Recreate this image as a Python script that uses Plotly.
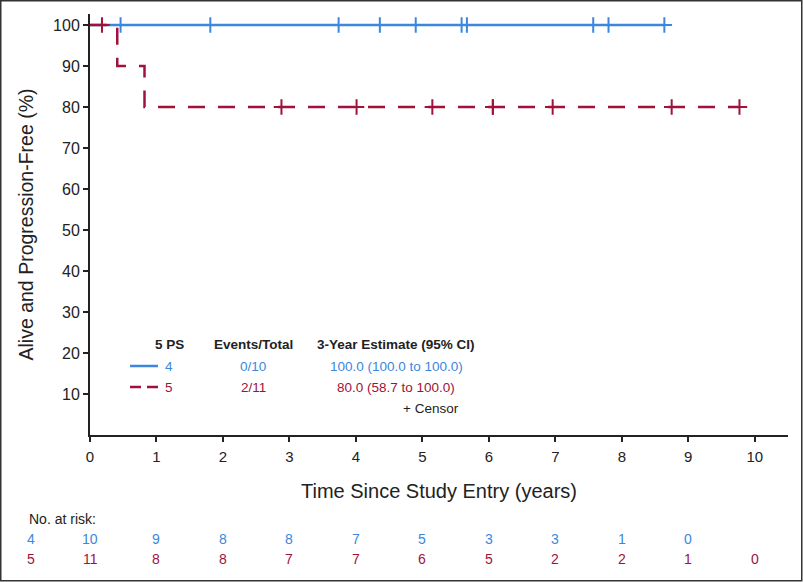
import plotly.graph_objects as go

# ---------------- data ----------------
blue_name = "4"
red_name = "5"
blue_step_t = [0, 8.64]
blue_step_s = [100, 100]
blue_censor_t = [0.46, 1.81, 3.74, 4.36, 4.90, 5.59, 5.67, 7.57, 7.80, 8.64]
red_step_t = [0, 0.41, 0.82, 9.77]
red_step_s = [100, 90, 80, 80]
red_censor_t = [0.18, 2.88, 4.01, 5.15, 6.06, 6.06, 6.96, 8.75, 9.77]
risk_times = [0, 1, 2, 3, 4, 5, 6, 7, 8, 9, 10]
blue_risk = [10, 9, 8, 8, 7, 5, 3, 3, 1, 0, None]
red_risk = [11, 8, 8, 7, 7, 6, 5, 2, 2, 1, 0]
table_header = ["5 PS", "Events/Total", "3-Year Estimate (95% CI)"]
blue_row = ["4", "0/10", "100.0 (100.0 to 100.0)"]
red_row = ["5", "2/11", "80.0 (58.7 to 100.0)"]

BLUE = "#3b87dd"
RED = "#a0123c"
DARK = "#222222"
REG = "Liberation Sans, Arial, Helvetica, sans-serif"

W, H = 803, 582
ML, MR, MT, MB = 90, 15, 14, 147
PW, PH = W - ML - MR, H - MT - MB


def px_x(px):
    return (px - ML) / PW


def px_y(py):
    return (H - MB - py) / PH


def surv_at(ts, ss, t):
    v = ss[0]
    for ti, si in zip(ts, ss):
        if t >= ti:
            v = si
    return v


fig = go.Figure()
fig.add_trace(go.Scatter(x=blue_step_t, y=blue_step_s, mode="lines", line_shape="hv",
                         line=dict(color=BLUE, width=2.5), showlegend=False, hoverinfo="skip"))
fig.add_trace(go.Scatter(x=red_step_t, y=red_step_s, mode="lines", line_shape="hv",
                         line=dict(color=RED, width=2.5, dash="17px,13px"), showlegend=False,
                         hoverinfo="skip"))
fig.add_trace(go.Scatter(x=blue_censor_t, y=[surv_at(blue_step_t, blue_step_s, t) for t in blue_censor_t],
                         mode="markers", marker=dict(symbol="cross-thin", size=11,
                                                     line=dict(color=BLUE, width=2)),
                         showlegend=False, cliponaxis=False, hoverinfo="skip"))
fig.add_trace(go.Scatter(x=red_censor_t, y=[surv_at(red_step_t, red_step_s, t) for t in red_censor_t],
                         mode="markers", marker=dict(symbol="cross-thin", size=11,
                                                     line=dict(color=RED, width=2)),
                         showlegend=False, cliponaxis=False, hoverinfo="skip"))

ann = []
# in-plot table
col_px = [169, 253, 396]
hdr_y = px_y(344)
row_y = [px_y(366), px_y(387)]
for i, txt in enumerate(table_header):
    ann.append(dict(x=px_x(col_px[i]), y=hdr_y, xref="paper", yref="paper", text=f"<b>{txt}</b>",
                    showarrow=False, xanchor="center", yanchor="middle",
                    font=dict(family=REG, size=13.5, color=DARK)))
for row, col, yy in [(blue_row, BLUE, row_y[0]), (red_row, RED, row_y[1])]:
    for i, txt in enumerate(row):
        ann.append(dict(x=px_x(col_px[i]), y=yy, xref="paper", yref="paper", text=txt, showarrow=False,
                        xanchor="center", yanchor="middle", font=dict(family=REG, size=13.5, color=col)))
ann.append(dict(x=px_x(461), y=px_y(408), xref="paper", yref="paper", text="+ Censor", showarrow=False,
                xanchor="right", yanchor="middle", font=dict(family=REG, size=13.5, color=DARK)))

# risk table
ann.append(dict(x=px_x(27), y=px_y(519), xref="paper", yref="paper", text="No. at risk:",
                showarrow=False, xanchor="left", yanchor="middle", font=dict(family=REG, size=14, color=DARK)))
for lbl, vals, col, py in [(blue_name, blue_risk, BLUE, 539), (red_name, red_risk, RED, 559)]:
    ann.append(dict(x=px_x(31), y=px_y(py), xref="paper", yref="paper", text=lbl, showarrow=False,
                    xanchor="center", yanchor="middle", font=dict(family=REG, size=14, color=col)))
    for t, v in zip(risk_times, vals):
        if v is None:
            continue
        ann.append(dict(x=t, y=px_y(py), xref="x", yref="paper", text=str(v), showarrow=False,
                        xanchor="center", yanchor="middle", font=dict(family=REG, size=14, color=col)))

shapes = [
    dict(type="line", xref="paper", yref="paper", x0=px_x(130), x1=px_x(158), y0=row_y[0], y1=row_y[0],
         line=dict(color=BLUE, width=2.5)),
    dict(type="line", xref="paper", yref="paper", x0=px_x(130), x1=px_x(158), y0=row_y[1], y1=row_y[1],
         line=dict(color=RED, width=2.5, dash="11px,6px")),
    dict(type="rect", xref="paper", yref="paper", x0=px_x(0.75), x1=px_x(801.75), y0=px_y(580.75),
         y1=px_y(0.75), line=dict(color="#333333", width=1.5), layer="above"),
]

fig.update_layout(
    width=W, height=H, margin=dict(l=ML, r=MR, t=MT, b=MB, autoexpand=False),
    paper_bgcolor="white", plot_bgcolor="white",
    showlegend=False, annotations=ann, shapes=shapes,
    xaxis=dict(range=[0, 10.5], tickvals=risk_times, ticks="outside", ticklen=5, tickwidth=1.5,
               tickcolor=DARK, showline=True, linecolor=DARK, linewidth=2, showgrid=False, zeroline=False,
               automargin=False, ticklabelstandoff=2,
               tickfont=dict(family=REG, size=15, color=DARK),
               title=dict(text="Time Since Study Entry (years)", standoff=20,
                          font=dict(family=REG, size=20, color=DARK))),
    yaxis=dict(range=[0, 102.7], tickvals=[10, 20, 30, 40, 50, 60, 70, 80, 90, 100], ticks="outside",
               ticklen=5, tickwidth=1.5, tickcolor=DARK, showline=True, linecolor=DARK, linewidth=2,
               showgrid=False, zeroline=False, automargin=False,
               tickfont=dict(family=REG, size=16, color=DARK),
               title=dict(text="Alive and Progression-Free (%)", standoff=14,
                          font=dict(family=REG, size=19.5, color=DARK))),
)

fig.write_html("out.html", config={"displayModeBar": False},
               post_script="document.body.style.margin='0';document.body.style.overflow='hidden';")
